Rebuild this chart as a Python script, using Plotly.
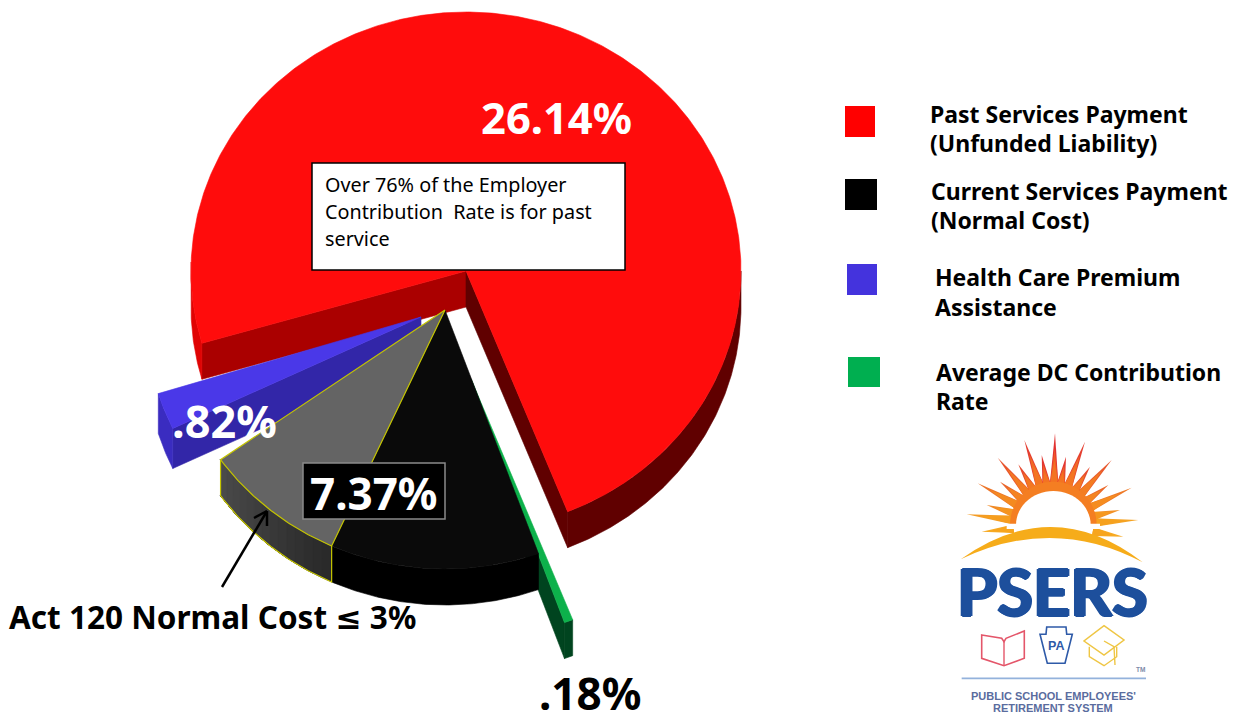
import math
import plotly.graph_objects as go

# Employer contribution rate components, percent
labels = ["Past Services Payment", "Average DC Contribution Rate",
          "Current Services Payment (above Act 120)", "Act 120 Normal Cost",
          "Health Care Premium Assistance"]
values = [26.14, 0.18, 4.37, 3.00, 0.82]
value_labels = ["26.14%", ".18%", "7.37%", ".82%"]

legend_lines = [["Past Services Payment", "(Unfunded Liability)"],
                ["Current Services Payment", "(Normal Cost)"],
                ["Health Care Premium", "Assistance"],
                ["Average DC Contribution", "Rate"]]
note_lines = ["Over 76% of the Employer", "Contribution  Rate is for past", "service"]

BOLD = "Noto Sans, DejaVu Sans"
RX, RY, DEPTH = 275, 259, 36
SWEEP_PER_UNIT = 349.2 / sum(values)   # tilted view foreshortens the sweep a little
RED_START = 253.8
BLUE_GAP = 9.8

fig = go.Figure()


def arc(cx, cy, a0, a1, dy=0, rad=1.0):
    n = max(2, int(abs(a1 - a0)) * 2 + 2)
    pts = [a0 + (a1 - a0) * i / (n - 1) for i in range(n)]
    return ([cx + RX * rad * math.sin(math.radians(a)) for a in pts],
            [cy - RY * rad * math.cos(math.radians(a)) + dy for a in pts])


def poly(xs, ys, fill, line=None, width=0):
    fig.add_trace(go.Scatter(
        x=xs + xs[:1], y=ys + ys[:1], mode="lines", fill="toself", fillcolor=fill,
        line=dict(color=line or fill, width=width if line else 0.6),
        hoverinfo="skip", showlegend=False))


def outer_wall(cx, cy, a0, a1, fill, depth=DEPTH):
    xs, ys = arc(cx, cy, a0, a1)
    xb, yb = arc(cx, cy, a1, a0, depth)
    poly(xs + xb, ys + yb, fill)


def edge_wall(cx, cy, a, fill, depth=DEPTH):
    xs, ys = arc(cx, cy, a, a)
    px, py = xs[0], ys[0]
    poly([cx, px, px, cx], [cy, py, py + depth, cy + depth], fill)


def top_face(cx, cy, a0, a1, fill, line=None, width=0):
    xs, ys = arc(cx, cy, a0, a1)
    poly([cx] + xs, [cy] + ys, fill, line, width)


# clockwise walk round the pie, from the start of the red slice
a = RED_START
spans = {}
for name, v in zip(labels, values):
    if name.startswith("Health"):
        a += BLUE_GAP
    spans[name] = (a, a + v * SWEEP_PER_UNIT)
    a += v * SWEEP_PER_UNIT

red = spans[labels[0]]
green = tuple(s - 360 for s in spans[labels[1]])
black = tuple(s - 360 for s in spans[labels[2]])
grey = tuple(s - 360 for s in spans[labels[3]])
blue = tuple(s - 360 for s in spans[labels[4]])

# past services slice
RC = (466, 271)
edge_wall(*RC, red[0], "#AA0000")
edge_wall(*RC, red[1], "#600000")
outer_wall(*RC, red[0], 272, "#E00404")
outer_wall(*RC, 90 + 360, red[1], "#600000")
top_face(*RC, red[0], red[1], "#FF0C0C")

# health care slice
BC = (421, 317)
BLUE_DEPTH = 40
edge_wall(*BC, blue[0], "#3226A8", BLUE_DEPTH)
outer_wall(*BC, blue[0], blue[1], "#3A2CC0", BLUE_DEPTH)
top_face(*BC, blue[0], blue[1], "#4A38E8")

# DC slice
GC = (471, 379)
edge_wall(*GC, green[1], "#00441F")
outer_wall(*GC, green[0], green[1], "#00441F")
top_face(*GC, green[0], green[1], "#0DB14B")

# normal cost slice, with the Act 120 share in grey
KC = (445, 310)
outer_wall(*KC, black[0], black[1], "#000000")
top_face(*KC, black[0], black[1], "#0A0A0A")

# shaded wall: each band runs to the far end and is overpainted by the next, so no seams show
steps = 14
for i in range(steps):
    a0 = grey[0] + (grey[1] - grey[0]) * i / steps
    shade = int(0x2A + (0x4A - 0x2A) * i / (steps - 1))
    outer_wall(*KC, a0, grey[1], f"rgb({shade},{shade},{shade})")
YEL = "#C4C400"
xb, yb = arc(*KC, grey[0], grey[1], DEPTH)
xt0, yt0 = arc(*KC, grey[0], grey[0])
xt1, yt1 = arc(*KC, grey[1], grey[1])
fig.add_trace(go.Scatter(
    x=[xt0[0]] + xb + [xt1[0]], y=[yt0[0]] + yb + [yt1[0]], mode="lines",
    line=dict(color=YEL, width=1.2), hoverinfo="skip", showlegend=False))
top_face(*KC, grey[0], grey[1], "#646464", YEL, 1.2)

fig.update_xaxes(range=[0, 1239], visible=False, fixedrange=True)
fig.update_yaxes(range=[712, 0], visible=False, fixedrange=True)
fig.update_layout(width=1239, height=712, margin=dict(l=0, r=0, t=0, b=0),
                  plot_bgcolor="white", paper_bgcolor="white", showlegend=False,
                  font=dict(family=BOLD))

shapes = []
notes = []


def text(x, y, s, size, color="#000000", bold=True, anchor="left", family=BOLD, **kw):
    body = f"<b>{s}</b>" if bold else s
    notes.append(dict(x=x, y=y, xref="x", yref="y", text=body, showarrow=False,
                      xanchor=anchor, yanchor="middle",
                      font=dict(size=size, color=color, family=family, **kw)))


def rect(x0, y0, x1, y1, fill, line=None, width=0):
    shapes.append(dict(type="rect", x0=x0, y0=y0, x1=x1, y1=y1, xref="x", yref="y",
                       fillcolor=fill, line=dict(color=line or fill, width=width),
                       layer="above"))


# legend
for (x0, y0, x1, y1, c) in [(845, 106, 875, 137, "#FF0000"), (845, 179, 877, 210, "#000000"),
                            (847, 264, 877, 295, "#4433DD"), (848, 357, 880, 387, "#00AF50")]:
    rect(x0, y0, x1, y1, c)
for lines, x, ys in zip(legend_lines, [928, 929, 933, 934],
                        [(114, 143), (191, 220), (277, 307), (372, 401)]):
    for line, y in zip(lines, ys):
        text(x, y, line, 23)

# note box
rect(312, 163, 625, 270, "#FFFFFF", "#000000", 1.5)
for line, y in zip(note_lines, [184, 211, 238]):
    text(323, y, line, 19.8, bold=False)

# value labels
text(556, 117, value_labels[0], 43.5, "#FFFFFF", anchor="center")
rect(303, 463, 445, 519, "#000000", "#8A8A8A", 1.5)
text(374, 493, value_labels[2], 44, "#FFFFFF", anchor="center")
text(224, 420, value_labels[3], 45, "#FFFFFF", anchor="center")
text(590, 693, value_labels[1], 44, anchor="center")
text(7, 616, "Act 120 Normal Cost ≤ 3%", 31.5)

# arrow pointing at the Act 120 share
for x0, y0, x1, y1 in [(222, 587, 267, 511), (267, 511, 254, 518), (267, 511, 267, 526)]:
    shapes.append(dict(type="line", x0=x0, y0=y0, x1=x1, y1=y1, xref="x", yref="y",
                       line=dict(color="#000000", width=2.5), layer="above"))


# logo, laid out on its own small grid
def zx(v):
    return 930 + v / 3


def zy(v):
    return 425 + v / 3


def path(points, fill=None, line=None, width=0, close=True):
    d = "M " + " L ".join(f"{zx(px):.1f},{zy(py):.1f}" for px, py in points) + (" Z" if close else "")
    shapes.append(dict(type="path", path=d, xref="x", yref="y",
                       fillcolor=fill if fill else "rgba(0,0,0,0)",
                       line=dict(color=line or "rgba(0,0,0,0)", width=width), layer="above"))


def mix(c0, c1, t):
    return "rgb(" + ",".join(str(int(p + (q - p) * t)) for p, q in zip(c0, c1)) + ")"


SUN = (370, 300)
ray_tips = [(375, 25), (465, 50), (545, 105), (605, 188), (625, 285), (283, 45), (203, 98),
            (143, 175), (110, 268), (408, 95), (480, 125), (535, 180), (570, 255), (580, 335),
            (335, 90), (265, 118), (210, 170), (170, 240), (155, 320)]
for tx, ty in ray_tips:
    dx, dy = tx - SUN[0], ty - SUN[1]
    L = math.hypot(dx, dy)
    ux, uy = dx / L, dy / L
    t = min(1.0, abs(math.atan2(dx, -dy)) / (math.pi / 2))
    tip_c = mix((226, 50, 50), (247, 170, 35), t ** 1.5)
    base_c = mix((243, 115, 35), (247, 165, 30), t ** 2)
    for frac, col in [(1.0, tip_c), (0.72, mix((240, 90, 40), (247, 165, 30), t)), (0.5, base_c)]:
        ex = SUN[0] + dx * ((110 + (L - 110) * frac) / L)
        ey = SUN[1] + dy * ((110 + (L - 110) * frac) / L)
        bx, by = SUN[0] + ux * 120, SUN[1] + uy * 120
        w = 13
        path([(bx - uy * w, by + ux * w), (ex, ey), (bx + uy * w, by - ux * w)], col)

ring = [(SUN[0] + 130 * math.sin(math.radians(d)), SUN[1] - 130 * math.cos(math.radians(d)))
        for d in range(-90, 91, 6)]
path(ring, "#F47E22")
disc = [(SUN[0] + 112 * math.sin(math.radians(d)), SUN[1] - 102 * math.cos(math.radians(d)))
        for d in range(-90, 91, 6)]
path(disc, "#FFFFFF")
rect(zx(230), zy(296), zx(510), zy(312), "#FFFFFF")

# horizon swoosh
d = (f"M {zx(92):.1f},{zy(403):.1f} Q {zx(370):.1f},{zy(205):.1f} {zx(638):.1f},{zy(412):.1f} "
     f"Q {zx(370):.1f},{zy(270):.1f} {zx(92):.1f},{zy(403):.1f} Z")
shapes.append(dict(type="path", path=d, xref="x", yref="y", fillcolor="#F6AC1A",
                   line=dict(color="#F6AC1A", width=0), layer="above"))

# heavy wordmark: bold face thickened with a tight text outline
WORD = "#1D4F9C"
text(1052.5, 591, "PSERS", 65, WORD, anchor="center", family="Lato",
     shadow=f"1.5px 0 0 {WORD}, -1.5px 0 0 {WORD}, 0 1px 0 {WORD}, 0 -1px 0 {WORD}")

# book, keystone and mortarboard
RED_I, BLUE_I, GOLD = "#E4566A", "#2E5AA8", "#EFC644"
path([(155, 630), (215, 640), (222, 650), (228, 640), (283, 618), (283, 700), (222, 722),
      (155, 700)], None, RED_I, 1.6)
path([(222, 650), (222, 722)], None, RED_I, 1.4, close=False)
path([(330, 628), (348, 628), (350, 606), (408, 606), (410, 628), (427, 628), (405, 715),
      (352, 715)], None, BLUE_I, 1.6)
text(zx(378), zy(662), "PA", 12.5, BLUE_I, anchor="center", family="Liberation Sans")
path([(522, 602), (582, 645), (522, 690), (462, 648)], None, GOLD, 1.5)
path([(478, 665), (478, 695), (522, 722), (560, 695), (560, 665)], None, GOLD, 1.4, close=False)
path([(522, 648), (552, 665), (555, 720)], None, GOLD, 1.4, close=False)
text(zx(632), zy(733), "TM", 6.5, "#7E8AA8", anchor="center", family="Liberation Sans")
shapes.append(dict(type="line", x0=zx(95), y0=zy(760), x1=zx(648), y1=zy(760), xref="x", yref="y",
                   line=dict(color="#93B2DC", width=1.6), layer="above"))
text(1053, 696, "PUBLIC SCHOOL EMPLOYEES'", 11, "#5A6C9E", anchor="center", family="Liberation Sans")
text(1053, 708, "RETIREMENT SYSTEM", 11, "#5A6C9E", anchor="center", family="Liberation Sans")

fig.update_layout(shapes=shapes, annotations=notes)
fig.write_html("out.html", config=dict(displayModeBar=False))
